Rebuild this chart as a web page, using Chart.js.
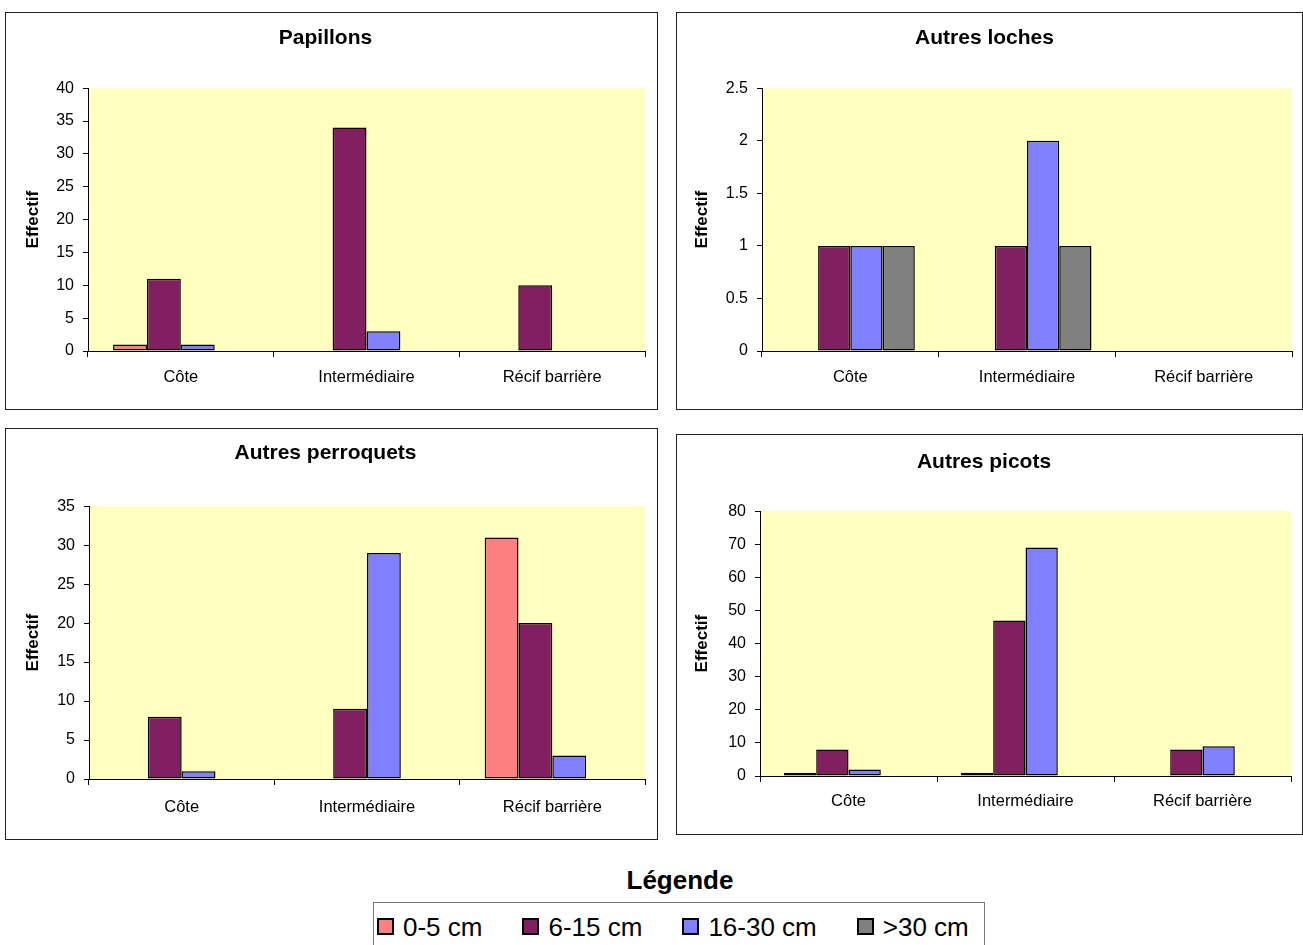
<!DOCTYPE html>
<html>
<head>
<meta charset="utf-8">
<script src="https://cdn.jsdelivr.net/npm/chart.js@4.4.0/dist/chart.umd.min.js"></script>
<style>
body { margin: 0; width: 1303px; height: 945px; overflow: hidden; position: relative; background: #fff; font-family: Arial, "Liberation Sans", sans-serif; }
.box { position: absolute; border: 1px solid #222; box-sizing: border-box; background: #fff; }
.box canvas { position: absolute; left: 0; top: 0; }
#legendTitle { position: absolute; left: 0; width: 1360px; top: 865px; text-align: center; font-weight: bold; font-size: 26px; }
#legend { position: absolute; left: 373px; top: 902px; width: 612px; height: 60px; border: 1px solid #777; box-sizing: border-box; display: flex; padding: 9px 0 0 3px; font-size: 26px; white-space: nowrap; }
.item { display: flex; align-items: center; flex: 0 0 auto; margin-right: 40px; height: 30px; }
.sw { width: 13px; height: 13px; border: 2px solid #000; margin-right: 9px; flex: 0 0 auto; position: relative; top: -1px; }
</style>
</head>
<body>
<div class="box" style="left:5px;top:12px;width:653px;height:398px"><canvas id="c1" width="651" height="396"></canvas></div>
<div class="box" style="left:676px;top:12px;width:627px;height:398px"><canvas id="c2" width="625" height="396"></canvas></div>
<div class="box" style="left:5px;top:428px;width:653px;height:412px"><canvas id="c3" width="651" height="410"></canvas></div>
<div class="box" style="left:676px;top:434px;width:627px;height:401px"><canvas id="c4" width="625" height="399"></canvas></div>
<div id="legendTitle">Légende</div>
<div id="legend"></div>
<script>
// catégories et classes de taille
var categories = ['Côte', 'Intermédiaire', 'Récif barrière'];
var sizeClasses = ['0-5 cm', '6-15 cm', '16-30 cm', '>30 cm'];
var colors = ['#FF8080', '#802060', '#8080FF', '#808080'];

// effectifs par classe de taille (ordre de sizeClasses)
var papillons = [[1, 0, 0], [11, 34, 10], [1, 3, 0], [0, 0, 0]];
var loches = [[0, 0, 0], [1, 1, 0], [1, 2, 0], [1, 1, 0]];
var perroquets = [[0, 0, 31], [8, 9, 20], [1, 29, 3], [0, 0, 0]];
var picots = [[1, 1, 0], [8, 47, 8], [2, 69, 9], [0, 0, 0]];

// axes
var yMax = [40, 2.5, 35, 80];
var yStep = [5, 0.5, 5, 10];

var plotBg = {
    id: 'plotBg',
    beforeDraw: function(chart) {
        var a = chart.chartArea, ctx = chart.ctx;
        ctx.save();
        ctx.fillStyle = '#FFFFC0';
        ctx.fillRect(a.left, a.top, a.right - a.left, a.bottom - a.top);
        ctx.restore();
    }
};

function makeChart(id, title, series, max, step, g) {
    var datasets = series.map(function(d, i) {
        return {
            label: sizeClasses[i],
            data: d,
            backgroundColor: colors[i],
            borderColor: '#000',
            borderWidth: 1.5,
            borderSkipped: false,
            categoryPercentage: 0.73,
            barPercentage: 1
        };
    });
    return new Chart(document.getElementById(id), {
        type: 'bar',
        data: { labels: categories, datasets: datasets },
        plugins: [plotBg],
        options: {
            responsive: false,
            animation: false,
            layout: { padding: { left: 0, top: 0, bottom: 0, right: g.padRight } },
            plugins: {
                legend: { display: false },
                tooltip: { enabled: false },
                title: {
                    display: true,
                    text: title,
                    color: '#000',
                    font: { family: 'Arial', size: 21, weight: 'bold' },
                    padding: { top: g.titleTop, bottom: g.titleBottom }
                }
            },
            scales: {
                x: {
                    grid: { offset: true, drawOnChartArea: false, drawTicks: true, tickLength: 6, color: '#000' },
                    border: { display: true, color: '#000', width: 1 },
                    ticks: { color: '#000', font: { family: 'Arial', size: 16.5 }, padding: g.labelPad, maxRotation: 0 },
                    afterFit: function(s) { s.height = g.xh; }
                },
                y: {
                    min: 0,
                    max: max,
                    grid: { drawOnChartArea: false, drawTicks: true, tickLength: 5, color: '#000' },
                    border: { display: true, color: '#000', width: 1 },
                    ticks: {
                        stepSize: step,
                        color: '#000',
                        padding: 9,
                        font: { family: 'Arial', size: 16 },
                        callback: function(v) { return String(v); }
                    },
                    title: {
                        display: true,
                        text: 'Effectif',
                        color: '#000',
                        font: { family: 'Arial', size: 17, weight: 'bold' },
                        padding: { top: g.effPad, bottom: 0 }
                    },
                    afterFit: function(s) { s.width = g.yw; }
                }
            }
        }
    });
}

makeChart('c1', 'Papillons', papillons, yMax[0], yStep[0],
    { yw: 82, padRight: 12, titleTop: 13, titleBottom: 37, xh: 58, labelPad: 11, effPad: 17 });
makeChart('c2', 'Autres loches', loches, yMax[1], yStep[1],
    { yw: 85, padRight: 10, titleTop: 13, titleBottom: 37, xh: 58, labelPad: 11, effPad: 15 });
makeChart('c3', 'Autres perroquets', perroquets, yMax[2], yStep[2],
    { yw: 83, padRight: 12, titleTop: 12, titleBottom: 40, xh: 60, labelPad: 13, effPad: 17 });
makeChart('c4', 'Autres picots', picots, yMax[3], yStep[3],
    { yw: 83, padRight: 11, titleTop: 15, titleBottom: 36, xh: 58, labelPad: 10, effPad: 15 });

// légende commune
var legend = document.getElementById('legend');
sizeClasses.forEach(function(name, i) {
    var item = document.createElement('div');
    item.className = 'item';
    var sw = document.createElement('span');
    sw.className = 'sw';
    sw.style.background = colors[i];
    item.appendChild(sw);
    item.appendChild(document.createTextNode(name));
    legend.appendChild(item);
});
</script>
</body>
</html>
